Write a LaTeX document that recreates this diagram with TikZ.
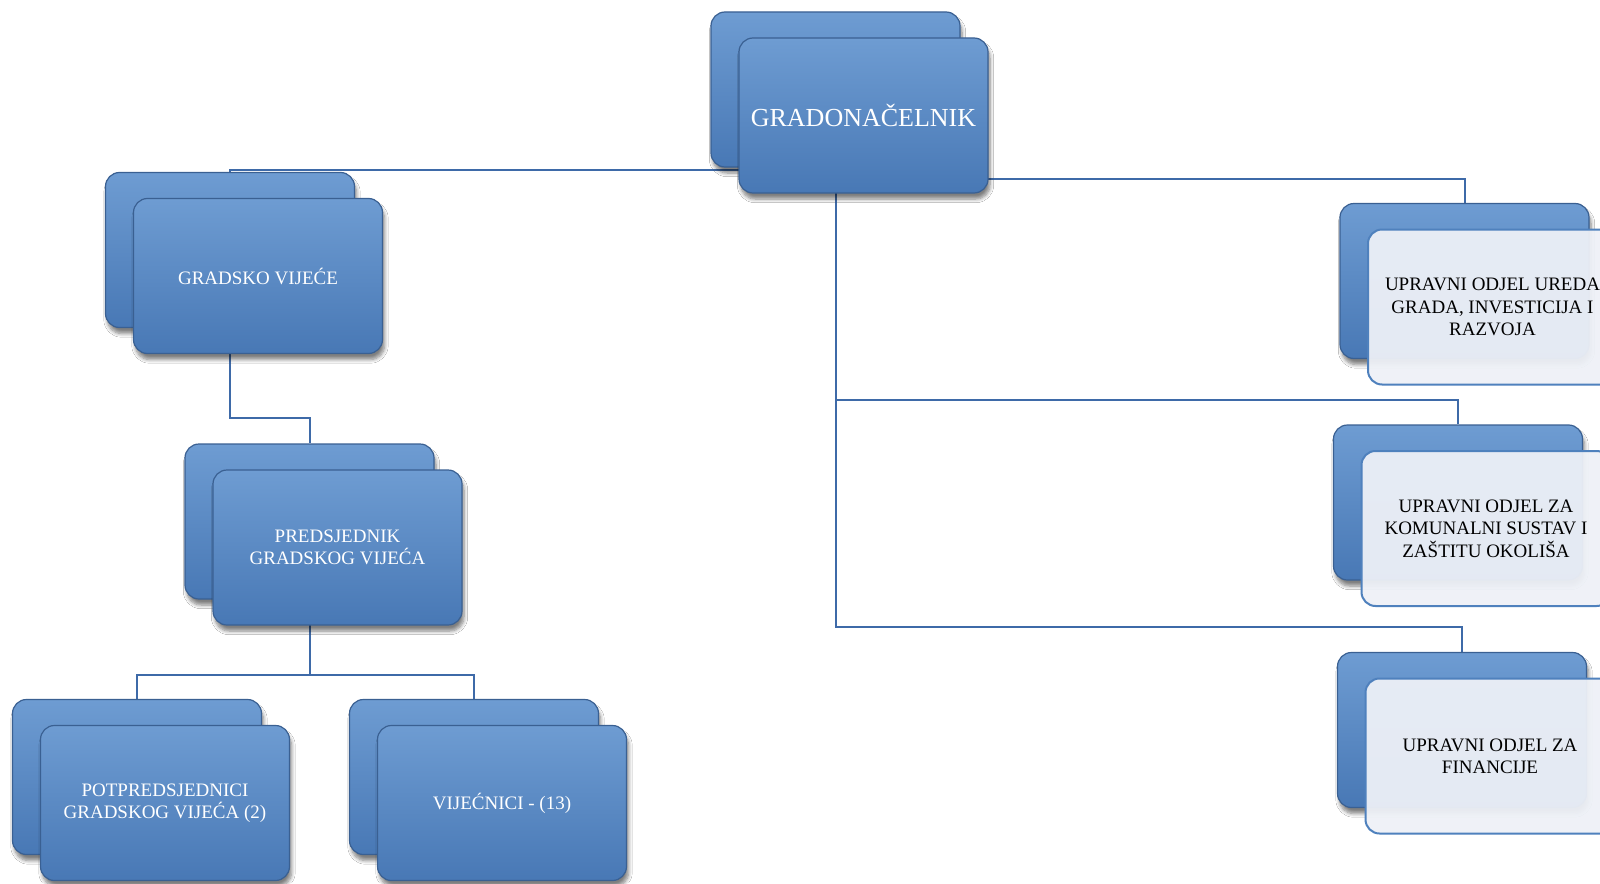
\documentclass[tikz,border=0pt]{standalone}
\usepackage{fontspec}
\setmainfont{Liberation Serif}
\usetikzlibrary{shadows.blur,backgrounds}
\definecolor{boxtop}{RGB}{110,156,210}
\definecolor{boxbot}{RGB}{72,120,181}
\definecolor{boxline}{RGB}{58,96,146}
\definecolor{linkc}{RGB}{62,106,168}
\definecolor{paleb}{RGB}{238,241,247}
\definecolor{paleline}{RGB}{79,129,189}
\begin{document}
\begin{tikzpicture}[x=0.5pt,y=-0.5pt,
    card/.style={draw=boxline,line width=0.6pt,rounded corners=7pt,top color=boxtop,bottom color=boxbot,
        minimum width=124.5pt,minimum height=77.5pt,inner sep=0pt,text=white,align=center,
        font=\fontsize{9.5}{11.2}\selectfont,
        blur shadow={shadow xshift=1pt,shadow yshift=-3pt,shadow blur steps=6,shadow opacity=50}},
    pale/.style={draw=paleline,line width=1pt,rounded corners=7pt,fill=paleb,fill opacity=0.94,text opacity=1,
        minimum width=124.5pt,minimum height=77.5pt,inner sep=0pt,text=black,align=center,
        font=\fontsize{9.5}{11.2}\selectfont},
    link/.style={draw=linkc,line width=1pt}]
    \useasboundingbox (0,0) rectangle (1600,883);
    %% back cards
    \node[card] (mayorb) at (835.5,89.5) {};
    \node[card] (councilb) at (230,250) {};
    \node[card] (presb) at (309.5,521.5) {};
    \node[card] (vpb) at (137,777) {};
    \node[card] (membersb) at (474,777) {};
    \node[card] (officeb) at (1464.5,281) {};
    \node[card] (utilb) at (1458,502.5) {};
    \node[card] (financeb) at (1462,730) {};
    %% front cards
    \node[card,font=\fontsize{13}{15}\selectfont] (mayor) at ([shift={(28,26)}]mayorb) {GRADONAČELNIK};
    \node[card] (council) at ([shift={(28,26)}]councilb) {GRADSKO VIJEĆE};
    \node[card] (pres) at ([shift={(28,26)}]presb) {PREDSJEDNIK\\GRADSKOG VIJEĆA};
    \node[card] (vp) at ([shift={(28,26)}]vpb) {POTPREDSJEDNICI\\GRADSKOG VIJEĆA (2)};
    \node[card] (members) at ([shift={(28,26)}]membersb) {VIJEĆNICI - (13)};
    \node[pale] (office) at ([shift={(28,26)}]officeb) {UPRAVNI ODJEL UREDA\\GRADA, INVESTICIJA I\\RAZVOJA};
    \node[pale] (util) at ([shift={(28,26)}]utilb) {UPRAVNI ODJEL ZA\\KOMUNALNI SUSTAV I\\ZAŠTITU OKOLIŠA};
    \node[pale] (finance) at ([shift={(28,26)}]financeb) {UPRAVNI ODJEL ZA\\FINANCIJE};
    %% connectors
    \begin{scope}[on background layer]
        \fill[white] (0,0) rectangle (1600,883);
        \draw[link] (mayorb) -- ++(0,80.5) -| (councilb.north);
        \draw[link] (councilb) -- ++(0,168) -| (presb.north);
        \draw[link] (presb) -- ++(0,153.5) -| (vpb.north);
        \draw[link] (presb) ++(0,153.5) -| (membersb.north);
        \draw[link] (mayorb) -- ++(0,537) -| (financeb.north);
        \draw[link] (mayorb) ++(0,89) -| (officeb.north);
        \draw[link] (mayorb) ++(0,310.5) -| (utilb.north);
    \end{scope}
\end{tikzpicture}
\end{document}
